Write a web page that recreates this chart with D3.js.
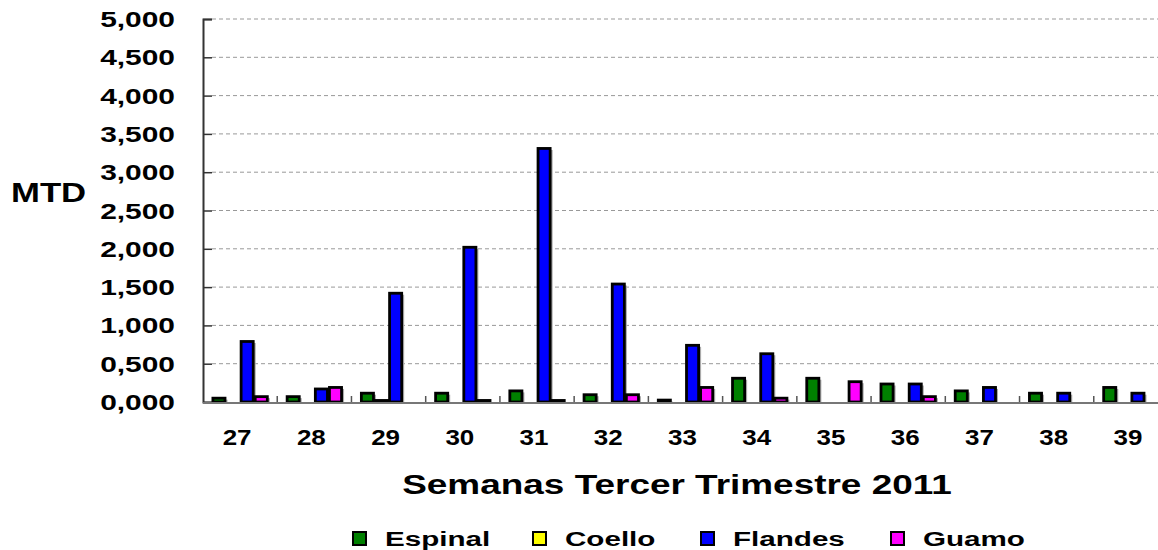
<!DOCTYPE html>
<html>
<head>
<meta charset="utf-8">
<script src="https://cdn.jsdelivr.net/npm/d3@7"></script>
<style>
  body { margin: 0; background: #fff; }
  svg text { font-family: "Liberation Sans", Arial, sans-serif; font-weight: bold; fill: #000; }
</style>
</head>
<body>
<div id="chart"></div>
<script>
// weeks (x categories)
var weeks = ["27","28","29","30","31","32","33","34","35","36","37","38","39"];
var seriesNames = ["Espinal","Coello","Flandes","Guamo"];
var seriesColors = ["#008000","#ffff00","#0000ff","#ff00ff"];
// values
var espinal = [0.05,0.07,0.115,0.115,0.145,0.095,0.025,0.31,0.31,0.235,0.145,0.115,0.19];
var coello  = [0,0,0.02,0,0,0,0,0,0,0,0,0,0];
var flandes = [0.79,0.17,1.42,2.02,3.31,1.54,0.74,0.63,0,0.235,0.19,0.115,0.115];
var guamo   = [0.07,0.19,0,0.02,0.02,0.095,0.19,0.05,0.265,0.07,0,0,0];
var yTicks = [0,0.5,1,1.5,2,2.5,3,3.5,4,4.5,5];

var allSeries = [espinal, coello, flandes, guamo];

var width = 1158, height = 550;
var plotLeft = 203, plotRight = 1168, plotTop = 19, plotBottom = 402;

var svg = d3.select("#chart").append("svg")
    .attr("width", width)
    .attr("height", height);

var x = d3.scaleBand().domain(weeks).range([plotLeft, plotRight]).padding(0);
var xSub = d3.scaleBand().domain(seriesNames)
    .range([x.bandwidth() * 0.12, x.bandwidth() * 0.88]).padding(0);
var y = d3.scaleLinear().domain([0, 5]).range([plotBottom, plotTop]);
var fmt = function(v){ return d3.format(".3f")(v).replace(".", ","); };

// text in the original is stretched sideways, so scale x only
function stretched(sel, px, py, sx){
    return sel.attr("transform", function(d, i){
        var a = typeof px === "function" ? px(d, i) : px;
        var b = typeof py === "function" ? py(d, i) : py;
        return "translate(" + a + "," + b + ") scale(" + sx + ",1)";
    });
}

// gridlines
svg.append("g").selectAll("line")
    .data(yTicks.slice(1))
    .enter().append("line")
    .attr("x1", plotLeft + 9).attr("x2", plotRight)
    .attr("y1", function(d){ return y(d); })
    .attr("y2", function(d){ return y(d); })
    .attr("stroke", "#999")
    .attr("stroke-width", 1)
    .attr("stroke-dasharray", "4,3");

// y axis
var yAxis = svg.append("g")
    .attr("transform", "translate(" + plotLeft + ",0)")
    .call(d3.axisRight(y).tickValues(yTicks).tickSize(9).tickFormat(""));
yAxis.select(".domain").attr("stroke", "#333").attr("stroke-width", 2);
yAxis.selectAll(".tick line").attr("stroke", "#333").attr("stroke-width", 1.5);

stretched(svg.append("g").selectAll("text")
    .data(yTicks)
    .enter().append("text")
    .attr("text-anchor", "end")
    .style("font-size", "22px")
    .text(fmt), 175, function(d){ return y(d) + 8; }, 1.36);

// bars
var bars = [];
allSeries.forEach(function(vals, s){
    vals.forEach(function(v, i){
        if (v > 0) bars.push({week: weeks[i], name: seriesNames[s], color: seriesColors[s], value: v});
    });
});

var barG = svg.append("g");
// shadow
barG.selectAll(".shadow")
    .data(bars)
    .enter().append("rect")
    .attr("class", "shadow")
    .attr("x", function(d){ return x(d.week) + xSub(d.name) + 1.5; })
    .attr("y", function(d){ return y(d.value) + 1.5; })
    .attr("width", xSub.bandwidth())
    .attr("height", function(d){ return plotBottom - y(d.value); })
    .attr("fill", "#aaa");
barG.selectAll(".bar")
    .data(bars)
    .enter().append("rect")
    .attr("class", "bar")
    .attr("x", function(d){ return x(d.week) + xSub(d.name) + 1; })
    .attr("y", function(d){ return y(d.value); })
    .attr("width", xSub.bandwidth() - 2)
    .attr("height", function(d){ return Math.max(1, plotBottom - y(d.value)); })
    .attr("fill", function(d){ return d.color; })
    .attr("stroke", "#000")
    .attr("stroke-width", 2.8);

// x axis
svg.append("line")
    .attr("x1", plotLeft).attr("x2", plotRight)
    .attr("y1", plotBottom + 1).attr("y2", plotBottom + 1)
    .attr("stroke", "#777").attr("stroke-width", 2);
svg.append("g").selectAll("line")
    .data(weeks.slice(1))
    .enter().append("line")
    .attr("x1", function(d){ return x(d); })
    .attr("x2", function(d){ return x(d); })
    .attr("y1", plotBottom - 6).attr("y2", plotBottom)
    .attr("stroke", "#555").attr("stroke-width", 1.5);

stretched(svg.append("g").selectAll("text")
    .data(weeks)
    .enter().append("text")
    .attr("text-anchor", "middle")
    .style("font-size", "22px")
    .text(function(d){ return d; }),
    function(d){ return x(d) + x.bandwidth() / 2 - 3; }, 445, 1.18);

// titles
stretched(svg.append("text")
    .style("font-size", "28px")
    .text("MTD"), 11, 202, 1.24);
stretched(svg.append("text")
    .attr("text-anchor", "middle")
    .style("font-size", "28px")
    .text("Semanas Tercer Trimestre 2011"), 677, 494, 1.32);

// legend
var legendX = [353, 533, 701, 891];
var legend = svg.append("g").selectAll("g")
    .data(seriesNames)
    .enter().append("g")
    .attr("transform", function(d, i){ return "translate(" + legendX[i] + ",532)"; });
legend.append("rect")
    .attr("width", 13).attr("height", 13)
    .attr("fill", function(d, i){ return seriesColors[i]; })
    .attr("stroke", "#000").attr("stroke-width", 2);
stretched(legend.append("text")
    .style("font-size", "20px")
    .text(function(d){ return d; }), 32, 14, 1.48);
</script>
</body>
</html>
